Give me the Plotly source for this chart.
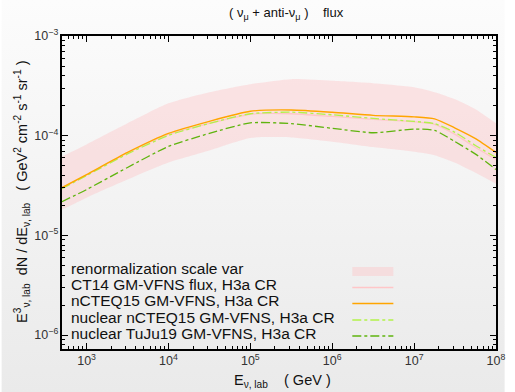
import base64
import plotly.graph_objects as go

# Neutrino energy grid (GeV)
energy = [501, 1000, 3162, 10000, 31623, 100000, 316228, 1000000,
          3162278, 10000000, 17782794, 31622777, 56234133, 100000000]

# E^3 dN/dE flux (GeV^2 cm^-2 s^-1 sr^-1)
band_upper = [6.19e-5, 8.17e-5, 1.33e-4, 2.11e-4, 2.73e-4, 3.29e-4, 3.69e-4,
              3.55e-4, 3.36e-4, 3.06e-4, 2.73e-4, 2.32e-4, 1.84e-4, 1.33e-4]
band_lower = [1.81e-5, 2.39e-5, 3.63e-5, 5.38e-5, 7.11e-5, 9.50e-5, 9.60e-5,
              8.70e-5, 7.68e-5, 6.90e-5, 6.38e-5, 5.35e-5, 4.24e-5, 3.29e-5]
ct14 = [2.98e-5, 4.03e-5, 6.71e-5, 1.03e-4, 1.33e-4, 1.64e-4, 1.66e-4,
        1.56e-4, 1.46e-4, 1.38e-4, 1.30e-4, 1.03e-4, 7.62e-5, 5.77e-5]
ncteq15 = [3.01e-5, 4.07e-5, 6.79e-5, 1.054e-4, 1.393e-4, 1.758e-4, 1.811e-4,
           1.718e-4, 1.60e-4, 1.545e-4, 1.476e-4, 1.194e-4, 9.35e-5, 6.79e-5]
nuc_ncteq15 = [2.94e-5, 3.98e-5, 6.56e-5, 1.007e-4, 1.33e-4, 1.66e-4, 1.72e-4,
               1.62e-4, 1.49e-4, 1.39e-4, 1.32e-4, 1.08e-4, 7.98e-5, 6.04e-5]
nuc_tuju19 = [2.18e-5, 2.88e-5, 4.80e-5, 7.80e-5, 1.054e-4, 1.346e-4, 1.32e-4,
              1.186e-4, 1.07e-4, 1.164e-4, 1.13e-4, 8.71e-5, 6.53e-5, 4.58e-5]

legend_labels = [
    "renormalization scale var",
    "CT14 GM-VFNS flux, H3a CR",
    "nCTEQ15 GM-VFNS, H3a CR",
    "nuclear nCTEQ15 GM-VFNS, H3a CR",
    "nuclear TuJu19 GM-VFNS, H3a CR",
]

FONT = "Liberation Sans, Arial, Helvetica, sans-serif"
BAND = "rgba(255,188,190,0.36)"
PINK = "#ffc6c8"
ORANGE = "#ffa500"
LIGHTGREEN = "#b2f24a"
DARKGREEN = "#5fb40e"

W, H = 515, 392
ML, MR, MT, MB = 62, 9, 36, 43
PW, PH = W - ML - MR, H - MT - MB

SMOOTH = dict(shape="spline", smoothing=0.6)

fig = go.Figure()
fig.add_trace(go.Scatter(x=energy, y=band_upper, mode="lines",
                         line=dict(width=0, **SMOOTH), hoverinfo="skip",
                         showlegend=False))
fig.add_trace(go.Scatter(x=energy, y=band_lower, mode="lines", fill="tonexty",
                         fillcolor=BAND, line=dict(width=0, **SMOOTH),
                         showlegend=False))
fig.add_trace(go.Scatter(x=energy, y=ct14, mode="lines",
                         line=dict(color=PINK, width=1.3, **SMOOTH),
                         showlegend=False))
fig.add_trace(go.Scatter(x=energy, y=nuc_ncteq15, mode="lines",
                         line=dict(color=LIGHTGREEN, width=1.3, dash="dashdot",
                                   **SMOOTH), showlegend=False))
fig.add_trace(go.Scatter(x=energy, y=ncteq15, mode="lines",
                         line=dict(color=ORANGE, width=1.4, **SMOOTH),
                         showlegend=False))
fig.add_trace(go.Scatter(x=energy, y=nuc_tuju19, mode="lines",
                         line=dict(color=DARKGREEN, width=1.3, dash="dashdot",
                                   **SMOOTH), showlegend=False))

# soft vertical gradient behind the whole page
svg = ('<svg xmlns="http://www.w3.org/2000/svg" width="10" height="100" '
       'preserveAspectRatio="none"><defs><linearGradient id="g" x1="0" y1="0" '
       'x2="0" y2="1"><stop offset="0" stop-color="#fcfcfc"/>'
       '<stop offset="1" stop-color="#eaeaea"/></linearGradient></defs>'
       '<rect width="10" height="100" fill="url(#g)"/></svg>')
src = "data:image/svg+xml;base64," + base64.b64encode(svg.encode()).decode()


def px_x(px):
    return (px - ML) / PW


def px_y(py):
    return (H - MB - py) / PH


images = [dict(source=src, xref="paper", yref="paper", x=px_x(0), y=px_y(0),
               sizex=W / PW, sizey=H / PH, sizing="stretch", layer="below",
               xanchor="left", yanchor="top")]

# key drawn inside the frame: text on the left, samples on the right
row_y = [271.5, 287.5, 303.5, 320, 336]
shapes = []
annotations = []
x0, x1 = px_x(359), px_x(401)
for i, lab in enumerate(legend_labels):
    annotations.append(dict(text=lab, xref="paper", yref="paper",
                            x=px_x(69), y=px_y(row_y[i] - 3), xanchor="left",
                            yanchor="middle", showarrow=False,
                            font=dict(size=15.5, color="#111")))
shapes.append(dict(type="rect", xref="paper", yref="paper", x0=x0, x1=x1,
                   y0=px_y(row_y[0] + 4.5), y1=px_y(row_y[0] - 4.5),
                   fillcolor=BAND, line=dict(width=0)))
for i, (col, dash, w) in enumerate([(PINK, "solid", 1.3), (ORANGE, "solid", 1.6),
                                    (LIGHTGREEN, "dashdot", 1.3),
                                    (DARKGREEN, "dashdot", 1.3)], start=1):
    shapes.append(dict(type="line", xref="paper", yref="paper", x0=x0, x1=x1,
                       y0=px_y(row_y[i]), y1=px_y(row_y[i]),
                       line=dict(color=col, width=w, dash=dash)))

annotations.append(dict(text="( ν<sub>μ</sub> + anti-ν<sub>μ</sub> )    flux",
                        xref="paper", yref="paper", x=px_x(292), y=px_y(13),
                        xanchor="center", yanchor="middle", showarrow=False,
                        font=dict(size=13, color="#111")))
annotations.append(dict(text="E<sub>ν, lab</sub>    ( GeV )",
                        xref="paper", yref="paper", x=px_x(236), y=px_y(381),
                        xanchor="left", yanchor="middle", showarrow=False,
                        font=dict(size=14.5, color="#111")))
annotations.append(dict(text="E<sup>3</sup><sub>ν, lab</sub>  dN / dE<sub>ν, lab</sub>"
                             "   ( GeV<sup>2</sup> cm<sup>-2</sup> s<sup>-1</sup> sr<sup>-1</sup> )",
                        xref="paper", yref="paper", x=px_x(21), y=px_y(192),
                        xanchor="center", yanchor="middle", showarrow=False,
                        textangle=-90, font=dict(size=14.5, color="#111")))

axis_common = dict(type="log", showline=True, linecolor="black", linewidth=1.5,
                   mirror="ticks", ticks="inside", ticklen=6, tickcolor="black",
                   tickwidth=1, showgrid=False, zeroline=False,
                   exponentformat="power", dtick=1,
                   tickfont=dict(size=10, color="#333", family=FONT),
                   minor=dict(dtick="D1", ticks="inside", ticklen=3,
                              tickcolor="black", showgrid=False))

fig.update_layout(
    width=W, height=H,
    margin=dict(l=ML, r=MR, t=MT, b=MB, pad=0),
    paper_bgcolor="rgba(0,0,0,0)", plot_bgcolor="rgba(0,0,0,0)",
    font=dict(family=FONT, color="#111"),
    xaxis=dict(range=[2.7, 8.0], **axis_common),
    yaxis=dict(range=[-6.14, -3.0], **axis_common),
    images=images, shapes=shapes, annotations=annotations,
    showlegend=False,
)

fig.write_html("out.html")
